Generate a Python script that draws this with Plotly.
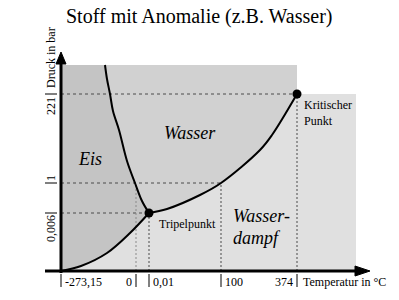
import plotly.graph_objects as go

# ---------------- data (schematic positions: x = px right of origin, y = px above x axis) -------------
title_text = "Stoff mit Anomalie (z.B. Wasser)"
x_title = "Temperatur in °C"
y_title = "Druck in bar"

temp_labels = ["-273,15", "0", "0,01", "100", "374"]
temp_pos = [0, 75, 88, 160, 236]
temp_label_side = ["right", "left", "right", "right", "left"]

press_labels = ["0,006", "1", "221"]
press_pos = [58, 88, 177]
press_label_offset = [-16, 5, -12]

# phase boundary curves
subl_x = [0, 20, 46, 69, 88]
subl_y = [0, 5, 18, 38, 58]
melt_x = [88, 81, 74, 66, 58, 52, 49, 46, 44]
melt_y = [58, 70, 88, 110, 141, 160, 177, 192, 206]
vap_x = [88, 106, 139, 160, 199, 211, 236]
vap_y = [58, 62, 76, 88, 121, 136, 177]

triple = (88, 58)
critical = (236, 177)

# region extents
top_y = 206
light_right = 295

region_labels = ["Wasser", "Eis", "Wasser-", "dampf"]
region_x = [129, 29, 200, 196]
region_y = [138, 112, 55, 33]

point_labels = ["Tripelpunkt", "Kritischer<br>Punkt"]
point_x = [96, 241]
point_y = [47, 158]

# ---------------- styles --------------------------------------------------------------
C_EIS = "#c4c4c4"
C_WASSER = "#d1d1d1"
C_DAMPF = "#e0e0e0"
SERIF = "Liberation Serif, Times New Roman, serif"

fig = go.Figure()

# background rectangles
fig.add_shape(type="rect", x0=0, x1=critical[0], y0=0, y1=top_y,
              fillcolor=C_WASSER, line_width=0, layer="below")
fig.add_shape(type="rect", x0=critical[0], x1=light_right, y0=0, y1=critical[1],
              fillcolor=C_DAMPF, line_width=0, layer="below")

# vapour region below curves
fig.add_trace(go.Scatter(x=vap_x, y=vap_y, mode="lines", line=dict(width=0, shape="spline"),
                         fill="tozeroy", fillcolor=C_DAMPF, hoverinfo="skip"))
fig.add_trace(go.Scatter(x=subl_x, y=subl_y, mode="lines", line=dict(width=0, shape="spline"),
                         fill="tozeroy", fillcolor=C_DAMPF, hoverinfo="skip"))
# ice region
fig.add_trace(go.Scatter(x=melt_x, y=melt_y, mode="lines", line=dict(width=0, shape="spline"),
                         fill="tozerox", fillcolor=C_EIS, hoverinfo="skip"))
fig.add_trace(go.Scatter(x=subl_x, y=subl_y, mode="lines", line=dict(width=0, shape="spline"),
                         fill="tozerox", fillcolor=C_EIS, hoverinfo="skip"))

# dashed guide lines
dash_col = "#4a4a4a"
press_ends = [triple[0], 160, critical[0]]
for p, xe in zip(press_pos, press_ends):
    fig.add_trace(go.Scatter(x=[0, xe], y=[p, p], mode="lines",
                             line=dict(color=dash_col, width=1, dash="3px,3px"), hoverinfo="skip"))
temp_tops = [0, 88, 58, 88, 177]
for i, (t, ytop) in enumerate(zip(temp_pos, temp_tops)):
    if ytop == 0:
        continue
    col = "#8a8a8a" if i == 1 else dash_col
    fig.add_trace(go.Scatter(x=[t, t], y=[0, ytop], mode="lines",
                             line=dict(color=col, width=1, dash="2px,2px"), hoverinfo="skip"))

# phase boundary curves
for cx, cy in [(subl_x, subl_y), (melt_x, melt_y), (vap_x, vap_y)]:
    fig.add_trace(go.Scatter(x=cx, y=cy, mode="lines",
                             line=dict(color="black", width=2, shape="spline"), hoverinfo="skip"))

# points
fig.add_trace(go.Scatter(x=[triple[0], critical[0]], y=[triple[1], critical[1]], mode="markers",
                         marker=dict(color="black", size=9), hoverinfo="skip"))

# axes with arrows
fig.add_shape(type="line", x0=-16, x1=296, y0=0, y1=0, line=dict(color="black", width=3), layer="above")
fig.add_shape(type="line", x0=0, x1=0, y0=-2, y1=209, line=dict(color="black", width=3), layer="above")
fig.add_shape(type="path", path="M 294 -5 L 309 0 L 294 5 Z", fillcolor="black",
              line=dict(color="black", width=1), layer="above")
fig.add_shape(type="path", path="M -5 207 L 0 219 L 5 207 Z", fillcolor="black",
              line=dict(color="black", width=1), layer="above")

# x ticks and labels
for lab, t, side in zip(temp_labels, temp_pos, temp_label_side):
    fig.add_shape(type="line", x0=t, x1=t, y0=-3, y1=-16, line=dict(color="black", width=1))
    fig.add_annotation(x=t + (2 if side == "right" else -2), y=-11, text=lab, showarrow=False,
                       xanchor="left" if side == "right" else "right", yanchor="middle",
                       font=dict(family=SERIF, size=12, color="black"))
fig.add_annotation(x=240, y=-11, text=x_title, showarrow=False, xanchor="left", yanchor="middle",
                   font=dict(family=SERIF, size=12, color="black"))

# y ticks and labels
for lab, p, off in zip(press_labels, press_pos, press_label_offset):
    fig.add_shape(type="line", x0=-16, x1=-4, y0=p, y1=p, line=dict(color="black", width=1))
    fig.add_annotation(x=-10, y=p + off, text=lab, showarrow=False, textangle=-90,
                       xanchor="center", yanchor="middle",
                       font=dict(family=SERIF, size=12, color="black"))
fig.add_annotation(x=-10, y=213, text=y_title, showarrow=False, textangle=-90,
                   xanchor="center", yanchor="middle",
                   font=dict(family=SERIF, size=12, color="black"))

# region labels
for lab, rx, ry in zip(region_labels, region_x, region_y):
    fig.add_annotation(x=rx, y=ry, text="<i>" + lab + "</i>", showarrow=False,
                       xanchor="center", yanchor="middle",
                       font=dict(family=SERIF, size=18, color="black"))

# point labels
for lab, px_, py_ in zip(point_labels, point_x, point_y):
    fig.add_annotation(x=px_, y=py_, text=lab, showarrow=False, xanchor="left", yanchor="middle",
                       align="left", font=dict(family=SERIF, size=12, color="black"))

# title
fig.add_annotation(x=0.5, y=1 - 17 / 300, xref="paper", yref="paper", text=title_text,
                   showarrow=False, xanchor="center", yanchor="middle",
                   font=dict(family=SERIF, size=20, color="black"))

fig.update_layout(
    width=399, height=300,
    margin=dict(l=0, r=0, t=0, b=0),
    paper_bgcolor="white", plot_bgcolor="white",
    showlegend=False,
    xaxis=dict(range=[-61, 338], visible=False, fixedrange=True),
    yaxis=dict(range=[-29, 271], visible=False, fixedrange=True),
)

fig.write_html("out.html")
